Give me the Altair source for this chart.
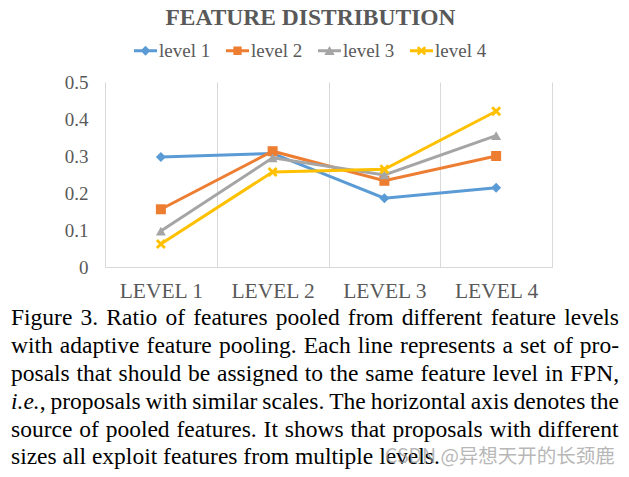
import altair as alt
import pandas as pd

# ---------------- data ----------------
categories = ["LEVEL 1", "LEVEL 2", "LEVEL 3", "LEVEL 4"]
series_names = ["level 1", "level 2", "level 3", "level 4"]
level_1 = [0.297, 0.307, 0.186, 0.214]
level_2 = [0.156, 0.313, 0.233, 0.300]
level_3 = [0.097, 0.295, 0.249, 0.355]
level_4 = [0.062, 0.257, 0.264, 0.421]
y_ticks = [0, 0.1, 0.2, 0.3, 0.4, 0.5]

title_text = "FEATURE DISTRIBUTION"
caption_lines = [
    "Figure 3. Ratio of features pooled from different feature levels",
    "with adaptive feature pooling. Each line represents a set of pro-",
    "posals that should be assigned to the same feature level in FPN,",
    "i.e., proposals with similar scales. The horizontal axis denotes the",
    "source of pooled features. It shows that proposals with different",
    "sizes all exploit features from multiple levels.",
]
watermark_text = "CSDN @异想天开的长颈鹿"

# ---------------- styles ----------------
colors = ["#5B9BD5", "#ED7D31", "#A5A5A5", "#FFC000"]
xshape = "M-1,-0.6L-0.6,-1L0,-0.4L0.6,-1L1,-0.6L0.4,0L1,0.6L0.6,1L0,0.4L-0.6,1L-1,0.6L-0.4,0Z"
point_shapes = ["diamond", "square", "triangle-up", xshape]
bar = "M-1,-0.13H1V0.13H-1Z"
legend_shapes = [
    bar + "M0,-0.43L0.43,0L0,0.43L-0.43,0Z",
    bar + "M-0.36,-0.36H0.36V0.36H-0.36Z",
    bar + "M0,-0.42L0.45,0.36H-0.45Z",
    bar + "M-0.4,-0.24L-0.24,-0.4L0,-0.16L0.24,-0.4L0.4,-0.24L0.16,0L0.4,0.24L0.24,0.4L0,0.16L-0.24,0.4L-0.4,0.24L-0.16,0Z",
]
SERIF = "Liberation Serif"
GRAY_TEXT = "#595959"
GRID = "#D9D9D9"

W, H = 447, 185
PAD = {"left": 97, "top": 74, "right": 69, "bottom": 202}

rows = []
for name, vals in zip(series_names, [level_1, level_2, level_3, level_4]):
    for c, v in zip(categories, vals):
        rows.append({"series": name, "cat": c, "value": v})
df = pd.DataFrame(rows)

# ---------------- caption layout (justified) ----------------
lower = dict(zip("abcdefghijklmnopqrstuvwxyz",
                 [444, 500, 444, 500, 444, 333, 500, 500, 278, 278, 500, 278, 778,
                  500, 500, 500, 500, 333, 389, 278, 500, 500, 722, 500, 500, 444]))
upper = dict(zip("ABCDEFGHIJKLMNOPQRSTUVWXYZ",
                 [722, 667, 667, 722, 611, 556, 722, 722, 333, 389, 722, 611, 889,
                  722, 722, 556, 722, 667, 556, 611, 722, 722, 944, 722, 722, 611]))
other = {".": 250, ",": 250, "-": 333, " ": 250}
for d in "0123456789":
    other[d] = 500
widths = {**lower, **upper, **other}
italic_w = {"i": 278, "e": 444, ".": 250}

CAP_FS = 23.5
CAP_LEFT = 11 - 105
CAP_WIDTH = 608
CAP_BASE = [325, 353, 381, 409, 437, 464]


def seg_width(t, italic):
    tbl = italic_w if italic else widths
    return sum(tbl.get(ch, 500) for ch in t) / 1000 * CAP_FS


cap_rows = []
for li, line in enumerate(caption_lines):
    words = line.split(" ")
    segs = []
    for w in words:
        if w.startswith("i.e."):
            segs.append([("i.e.", True), (w[4:], False)])
        else:
            segs.append([(w, False)])
    wws = [sum(seg_width(t, it) for t, it in s) for s in segs]
    last = li == len(caption_lines) - 1
    if last:
        gap = 0.25 * CAP_FS
    else:
        gap = (CAP_WIDTH - sum(wws)) / (len(words) - 1)
    x = CAP_LEFT
    for s, ww in zip(segs, wws):
        xx = x
        for t, it in s:
            if t:
                cap_rows.append({"t": t, "x": xx, "y": CAP_BASE[li] - 82,
                                 "style": "italic" if it else "normal"})
            xx += seg_width(t, it)
        x += ww + gap
cap_df = pd.DataFrame(cap_rows)

# ---------------- chart ----------------
x_enc = alt.X("cat:N", sort=categories, bandPosition=0.5,
              scale=alt.Scale(type="band", domain=categories, paddingInner=0, paddingOuter=0),
              axis=alt.Axis(title=None, labelAngle=0, tickBand="extent", grid=True,
                            gridColor=GRID, gridWidth=1, ticks=False, tickSize=0,
                            domain=True, domainColor=GRID, domainWidth=1,
                            labelFont=SERIF, labelFontSize=21.5, labelColor=GRAY_TEXT,
                            labelPadding=13))
y_enc = alt.Y("value:Q", scale=alt.Scale(domain=[0, 0.5], nice=False, zero=True),
              axis=alt.Axis(title=None, values=y_ticks, grid=False, ticks=False, tickSize=0,
                            domain=False, labelFont=SERIF, labelFontSize=19,
                            labelColor=GRAY_TEXT, labelPadding=17,
                            labelExpr="datum.value == 0 ? '0' : format(datum.value, '.1f')"))
color_scale = alt.Scale(domain=series_names, range=colors)

base = alt.Chart(df)
lines = base.mark_line(strokeWidth=3).encode(
    x=x_enc, y=y_enc,
    color=alt.Color("series:N", scale=color_scale, legend=None),
    order=alt.Order("cat:N"),
)
points = base.mark_point(filled=True, opacity=1, size=100).encode(
    x=x_enc, y=y_enc,
    color=alt.Color("series:N", scale=color_scale, legend=None),
    shape=alt.Shape("series:N", scale=alt.Scale(domain=series_names, range=point_shapes), legend=None),
)
leg = dict(title=None, orient="none", legendX=29, legendY=-43,
           direction="horizontal", labelFont=SERIF, labelFontSize=19,
           labelColor=GRAY_TEXT, symbolSize=529, symbolStrokeWidth=0,
           labelOffset=2, columnPadding=15, padding=0, symbolOpacity=1)
legend_layer = base.mark_point(filled=True, opacity=1).encode(
    color=alt.Color("series:N", scale=alt.Scale(domain=series_names, range=colors),
                    legend=alt.Legend(**leg)),
    shape=alt.Shape("series:N", scale=alt.Scale(domain=series_names, range=legend_shapes),
                    legend=alt.Legend(**leg)),
).transform_filter("false")

title = alt.Chart(pd.DataFrame({"t": [title_text]})).mark_text(
    font=SERIF, fontSize=23.5, fontWeight="bold", color=GRAY_TEXT, align="center",
    baseline="alphabetic").encode(x=alt.value(205.5), y=alt.value(-57), text="t:N")

cap_normal = alt.Chart(cap_df).transform_filter("datum.style == 'normal'").mark_text(
    font=SERIF, fontSize=CAP_FS, color="black", align="left", baseline="alphabetic").encode(
    x=alt.X("x:Q", scale=None, axis=None), y=alt.Y("y:Q", scale=None, axis=None), text="t:N")
cap_italic = alt.Chart(cap_df).transform_filter("datum.style == 'italic'").mark_text(
    font=SERIF, fontSize=CAP_FS, fontStyle="italic", color="black", align="left",
    baseline="alphabetic").encode(
    x=alt.X("x:Q", scale=None, axis=None), y=alt.Y("y:Q", scale=None, axis=None), text="t:N")

watermark = alt.Chart(pd.DataFrame({"t": [watermark_text]})).mark_text(
    font="Noto Sans CJK SC", fontSize=19.5, color="#9a9a9a", opacity=0.7, align="left",
    baseline="alphabetic").encode(x=alt.value(280), y=alt.value(381), text="t:N")

chart = alt.layer(lines, points, legend_layer, title, cap_normal, cap_italic, watermark).resolve_scale(
    color="independent", shape="independent"
).properties(
    width=W, height=H, padding=PAD, autosize=alt.AutoSizeParams(type="none"),
    background="white",
).configure_view(stroke=None)

chart.save("out.html", embed_options={"renderer": "svg", "actions": False})
